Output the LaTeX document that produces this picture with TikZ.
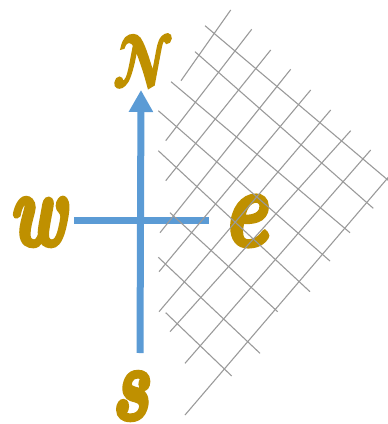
\documentclass[tikz,border=0pt]{standalone}
\usepackage{fontspec}
\usepackage{graphicx}
\usetikzlibrary{arrows.meta}
\newfontfamily\letterfont[FakeBold=5]{Latin Modern Roman}
\newfontfamily\scriptcapfont[FakeBold=5]{Latin Modern Math}
\definecolor{axisblue}{HTML}{5B9BD5}
\definecolor{gold}{HTML}{BF9000}
\definecolor{gridgray}{HTML}{9A9A9A}
\tikzset{
  axisline/.style={line width=7pt, draw=axisblue},
  lett/.style={inner sep=0pt, text=gold},
  gridline/.style={line width=1.1pt, draw=gridgray},
}
\begin{document}
\begin{tikzpicture}[x=1pt,y=-1pt]
\useasboundingbox (0,0) rectangle (388,424);
\clip (0,0) rectangle (388,424);
% axes
\coordinate (vb) at (140,353);
\coordinate (vt) at (141,90);
\coordinate (hl) at (74,220);
\coordinate (hr) at (209,220);
\draw[axisline,-{Triangle[width=23pt,length=22pt]}] (vb) -- (vt);
\draw[axisline] (hl) -- (hr);
% letters
\node[lett] (N) at (143,61) {\scalebox{5.4}[7.2]{\scriptcapfont\char"1D4DD}};
\node[lett] (W) at (37.5,222) {\scalebox{7.4}[10.3]{\letterfont\bfseries\itshape w}};
\node[lett] (E) at (245,221) {\scalebox{8.2}[10.8]{\letterfont\bfseries\itshape e}};
\node[lett] (S) at (130,396) {\scalebox{7.6}[10.3]{\letterfont\bfseries\itshape s}};
% grid lines, family "/"
\draw[gridline] (181,80.7) -- (230.7,10);
\draw[gridline] (165.7,140.7) -- (251.7,29.3);
\draw[gridline] (165.7,180.7) -- (270.7,50);
\draw[gridline] (160,232.7) -- (290.7,69.3);
\draw[gridline] (159,271.7) -- (310.7,90);
\draw[gridline] (159,311.7) -- (330.7,110);
\draw[gridline] (170,331.7) -- (350.7,130.7);
\draw[gridline] (185,363.3) -- (370.7,150);
\draw[gridline] (185,415) -- (392,173);
% grid lines, family "\"
\draw[gridline] (205,25.7) -- (392,183.5);
\draw[gridline] (195,51.7) -- (373.3,208.3);
\draw[gridline] (171,81.7) -- (350,232.7);
\draw[gridline] (158.3,110.7) -- (330,261);
\draw[gridline] (158.3,150.7) -- (310,291.7);
\draw[gridline] (170,212.7) -- (277.7,311.7);
\draw[gridline] (158.3,257.3) -- (260,353.3);
\draw[gridline] (165.7,312.7) -- (231.7,376);
\end{tikzpicture}
\end{document}
